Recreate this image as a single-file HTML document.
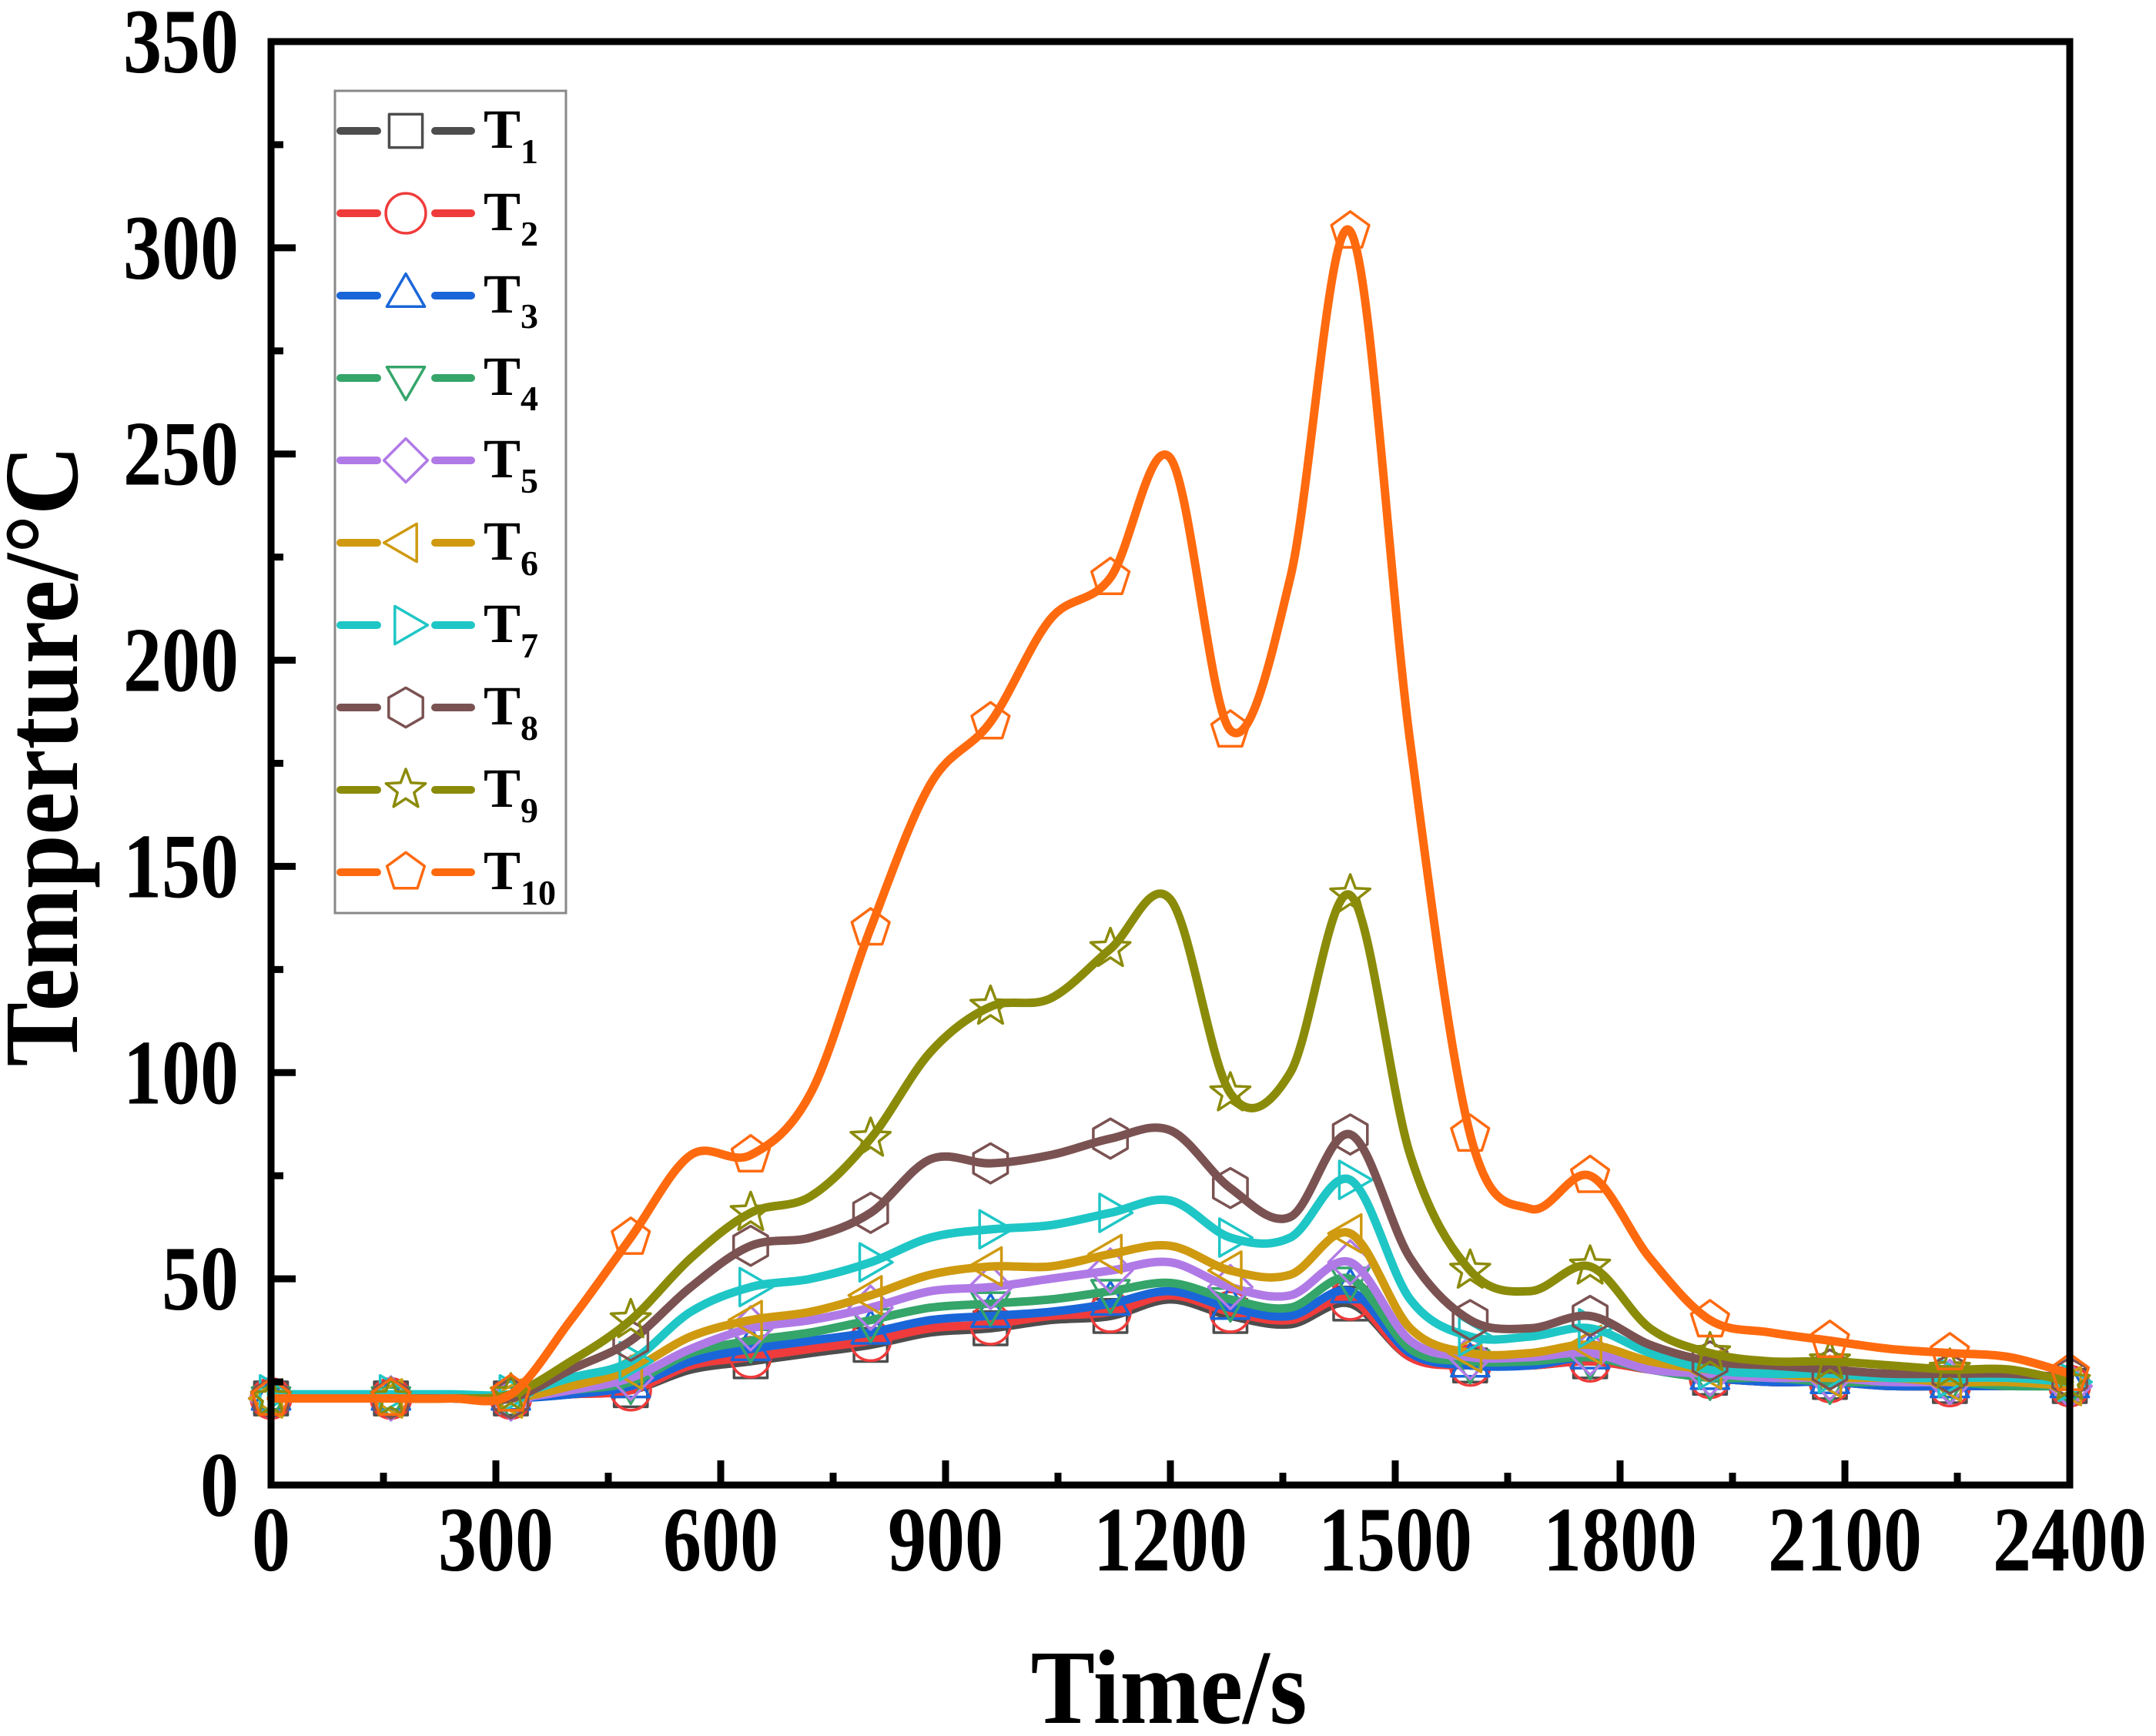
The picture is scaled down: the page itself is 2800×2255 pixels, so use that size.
<!DOCTYPE html>
<html><head><meta charset="utf-8">
<style>
html,body{margin:0;padding:0;background:#fff;}
svg{display:block;}
text{font-family:"Liberation Serif",serif;font-weight:bold;fill:#000;}
</style></head>
<body>
<svg id="chart" width="2800" height="2255" viewBox="0 0 2800 2255" xmlns="http://www.w3.org/2000/svg">
<g id="grid-layer"></g>
<g id="series-layer"></g>
<g id="axis-layer"></g>
<g id="legend-layer"></g>
<text transform="translate(1518,2238) scale(1,1.1)" font-size="125" text-anchor="middle">Time/s</text>
<text transform="translate(100,982) rotate(-90) scale(1,1.1)" font-size="125" text-anchor="middle">Temperture/°C</text>
</svg>
<script>
const times = [0,80,160,240,320,400,480,560,640,720,800,880,960,1040,1120,1200,1280,1360,1440,1520,1600,1680,1760,1840,1920,2000,2080,2160,2240,2320,2400];
const T1  = [21,21,21,21,21,22,23,28,30,32,34,37,38,40,41,45,41,39,44,31,29,29,30,28,26,25,25,24,24,24,24];
const T2  = [21,21,21,21,21,22,23,29,31,33,35,38,39,41,42,46,42,40,45,31,29,29,30,28,26,25,25,24,24,24,24];
const T3  = [21,21,21,21,21,22,24,30,33,35,37,40,41,42,44,47,43,41,47,32,29,29,31,28,26,25,25,24,24,24,24];
const T4  = [21,21,21,21,21,23,25,32,35,37,40,43,44,45,47,49,45,43,50,33,30,30,31,28,26,26,25,25,25,24,24];
const T5  = [21,21,21,21,21,23,26,33,38,40,43,47,48,50,52,54,48,46,54,35,31,31,32,28,27,26,26,25,25,25,24];
const T6  = [21,21,21,21,21,24,28,36,40,42,46,51,53,53,56,58,52,51,61,38,32,32,34,30,28,27,26,26,25,25,24];
const T7  = [22,22,22,22,22,26,30,42,48,50,54,60,62,63,66,69,60,60,74,45,36,36,38,32,28,27,27,26,26,26,25];
const T8  = [21,21,21,21,21,28,35,48,58,60,66,79,78,80,84,86,72,65,85,55,40,38,41,34,30,29,28,27,27,27,26];
const T9  = [21,21,21,21,22,30,40,55,66,70,84,105,116,118,130,142,95,100,143,80,52,47,53,38,32,30,30,29,28,28,25];
const T10 = [21,21,21,21,22,40,60,80,80,95,135,170,185,210,220,249,183,220,304,180,85,67,75,55,40,37,35,33,32,31,27];
const seriesNames = ["T1","T2","T3","T4","T5","T6","T7","T8","T9","T10"];
const seriesValues = [T1,T2,T3,T4,T5,T6,T7,T8,T9,T10];
const colors = ["#4d4d4d","#ef3b3b","#1a66d9","#35a56a","#b07ae6","#cf9a10","#1fc6c6","#7b5252","#8b8b0a","#ff6a0f"];
const markers = ["square","circle","triUp","triDown","diamond","triLeft","triRight","hexagon","star","pentagon"];
const xTicks = [0,300,600,900,1200,1500,1800,2100,2400];
const yTicks = [0,50,100,150,200,250,300,350];

const NS="http://www.w3.org/2000/svg";
const L=352,R=2688,T=54,B=1929;
const xs=t=>L+(t/2400)*(R-L);
const ys=v=>B-(v/350)*(B-T);
function mk(tag,attrs,parent){const e=document.createElementNS(NS,tag);for(const k in attrs)e.setAttribute(k,attrs[k]);parent.appendChild(e);return e;}

function markerPath(type,cx,cy,s){
  const r=s/2;let pts=[];
  const poly=(n,rot,rad)=>{const p=[];for(let i=0;i<n;i++){const a=rot+i*2*Math.PI/n;p.push([cx+rad*Math.cos(a),cy+rad*Math.sin(a)]);}return p;};
  switch(type){
    case "square": pts=[[cx-r*0.8,cy-r*0.8],[cx+r*0.8,cy-r*0.8],[cx+r*0.8,cy+r*0.8],[cx-r*0.8,cy+r*0.8]];break;
    case "triUp": pts=poly(3,-Math.PI/2,r*1.05);break;
    case "triDown": pts=poly(3,Math.PI/2,r*1.05);break;
    case "triLeft": pts=poly(3,Math.PI,r*1.05);break;
    case "triRight": pts=poly(3,0,r*1.05);break;
    case "diamond": pts=poly(4,-Math.PI/2,r*1.05);break;
    case "hexagon": pts=poly(6,-Math.PI/2,r*0.95);break;
    case "pentagon": pts=poly(5,-Math.PI/2,r*0.95);break;
    case "star": {for(let i=0;i<10;i++){const a=-Math.PI/2+i*Math.PI/5;const rr=i%2?r*0.42:r;pts.push([cx+rr*Math.cos(a),cy+rr*Math.sin(a)]);}break;}
    case "circle": return null;
  }
  return "M"+pts.map(p=>p[0].toFixed(1)+","+p[1].toFixed(1)).join("L")+"Z";
}
function drawMarker(type,cx,cy,s,color,parent,name){
  let e;
  if(type==="circle"){e=mk("circle",{cx:cx,cy:cy,r:s*0.48,fill:"none",stroke:color,"stroke-width":3.5},parent);}
  else{e=mk("path",{d:markerPath(type,cx,cy,s),fill:"none",stroke:color,"stroke-width":3.5,"stroke-linejoin":"round"},parent);}
  
  
}
function spline(px){
  let d="M"+px[0][0].toFixed(1)+","+px[0][1].toFixed(1);
  for(let i=0;i<px.length-1;i++){
    const p0=px[Math.max(0,i-1)],p1=px[i],p2=px[i+1],p3=px[Math.min(px.length-1,i+2)];
    const c1=[p1[0]+(p2[0]-p0[0])/6,p1[1]+(p2[1]-p0[1])/6];
    const c2=[p2[0]-(p3[0]-p1[0])/6,p2[1]-(p3[1]-p1[1])/6];
    d+="C"+c1[0].toFixed(1)+","+c1[1].toFixed(1)+" "+c2[0].toFixed(1)+","+c2[1].toFixed(1)+" "+p2[0].toFixed(1)+","+p2[1].toFixed(1);
  }
  return d;
}

const sl=document.getElementById("series-layer");
seriesValues.forEach((vals,si)=>{
  const g=mk("g",{},sl);
  
  
  const px=times.map((t,i)=>[xs(t),ys(vals[i])]);
  const line=mk("path",{d:spline(px),fill:"none",stroke:colors[si],"stroke-width":11,"stroke-linejoin":"round","stroke-linecap":"round"},g);
  
  
  times.forEach((t,i)=>{
    if(t%160===0) drawMarker(markers[si],xs(t),ys(vals[i]),54,colors[si],g,'marker-'+seriesNames[si].toLowerCase());
  });
});

const al=document.getElementById("axis-layer");
const frame=mk("rect",{x:L,y:T,width:R-L,height:B-T,fill:"none",stroke:"#000","stroke-width":9},al);


xTicks.forEach(t=>{
  const x=xs(t);
  const tk=mk("line",{x1:x,y1:B,x2:x,y2:B-32,stroke:"#000","stroke-width":9},al);
  
  
  const lb=mk("text",{transform:"translate("+x+",2040) scale(1,1.2)","font-size":100,"text-anchor":"middle"},al);
  lb.textContent=t;
  
  
});
for(let i=0;i<xTicks.length-1;i++){
  const x=xs((xTicks[i]+xTicks[i+1])/2);
  const mt=mk("line",{x1:x,y1:B,x2:x,y2:B-16,stroke:"#000","stroke-width":9},al);
  
  
}
yTicks.forEach(v=>{
  const y=ys(v);
  const tk=mk("line",{x1:L,y1:y,x2:L+32,y2:y,stroke:"#000","stroke-width":9},al);
  
  
  const lb=mk("text",{transform:"translate(310,"+(y+40)+") scale(1,1.2)","font-size":100,"text-anchor":"end"},al);
  lb.textContent=v;
  
  
});
for(let i=0;i<yTicks.length-1;i++){
  const y=ys((yTicks[i]+yTicks[i+1])/2);
  const mt=mk("line",{x1:L,y1:y,x2:L+16,y2:y,stroke:"#000","stroke-width":9},al);
  
  
}

const ll=document.getElementById("legend-layer");
const lbox=mk("rect",{x:435,y:118,width:300,height:1068,fill:"#fff",stroke:"#888","stroke-width":3},ll);


seriesNames.forEach((n,i)=>{
  const cy=170+i*107;
  const g=mk("g",{},ll);
  
  
  mk("line",{x1:442,y1:cy,x2:490,y2:cy,stroke:colors[i],"stroke-width":10,"stroke-linecap":"round"},g);
  mk("line",{x1:565,y1:cy,x2:612,y2:cy,stroke:colors[i],"stroke-width":10,"stroke-linecap":"round"},g);
  drawMarker(markers[i],527,cy,54,colors[i],g,'legend-marker');
  const tx=mk("text",{x:628,y:cy+22,"font-size":72},g);
  tx.textContent="T";
  const sub=mk("tspan",{dy:20,"font-size":46},tx);
  sub.textContent=n.slice(1);
  
  
});
</script>
</body></html>
